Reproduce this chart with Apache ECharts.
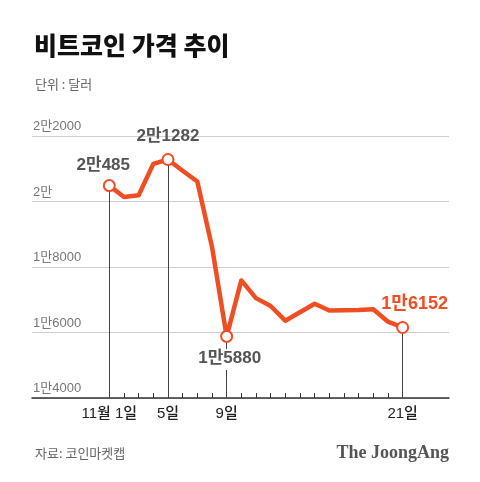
<!DOCTYPE html>
<html>
<head>
<meta charset="utf-8">
<script src="https://cdn.jsdelivr.net/npm/echarts@6/dist/echarts.min.js"></script>
<style>
  html, body { margin: 0; padding: 0; background: #fff; }
  #chart { width: 480px; height: 482px; }
</style>
</head>
<body>
<div id="chart"></div>
<script>
// 11월 1일 ~ 21일 일별 가격 (달러)
const days = [1, 2, 3, 4, 5, 6, 7, 8, 9, 10, 11, 12, 13, 14, 15, 16, 17, 18, 19, 20, 21]
const prices = [20485, 20140, 20190, 21150, 21282, 20940, 20610, 18620, 15880, 17590, 17050, 16810, 16360, 16620, 16880, 16670, 16680, 16690, 16710, 16330, 16152]
const markedDays = [1, 5, 9, 21]
const markedLabels = ['2만485', '2만1282', '1만5880', '1만6152']
const xLabels = { 1: '11월 1일', 5: '5일', 9: '9일', 21: '21일' }
const yTicks = [14000, 16000, 18000, 20000, 22000]
const yTickLabels = ['1만4000', '1만6000', '1만8000', '2만', '2만2000']

const orange = '#F04E22'
const font = 'Liberation Sans, Arial, "Noto Sans CJK KR", sans-serif'

const chart = echarts.init(document.getElementById('chart'), null, { renderer: 'canvas' })

const lineData = days.map((d, i) => [d, prices[i]])
const pointData = markedDays.map((d, i) => {
  const v = prices[days.indexOf(d)]
  const item = { value: [d, v], label: { formatter: markedLabels[i] } }
  if (i === 0) item.label = { ...item.label, position: 'top', offset: [-6, 0], distance: 5 }
  if (i === 1) item.label = { ...item.label, position: 'top', distance: 8 }
  if (i === 2) item.label = { ...item.label, position: 'bottom', offset: [3, 0], distance: 6, backgroundColor: '#fff', padding: [1, 1, 3, 1] }
  if (i === 3) item.label = { ...item.label, position: 'top', offset: [12, 2], distance: 10, color: orange, fontSize: 18 }
  return item
})
const dropLines = markedDays.map(d => [
  { coord: [d, prices[days.indexOf(d)]] },
  { coord: [d, yTicks[0]] }
])

const option = {
  animation: false,
  backgroundColor: '#fff',
  title: [
    {
      text: '비트코인 가격 추이',
      left: 29, top: 28,
      textStyle: { fontFamily: 'Noto Sans CJK KR', fontWeight: 900, fontSize: 25, color: '#111' }
    },
    {
      text: '단위 : 달러',
      left: 30, top: 73,
      textStyle: { fontFamily: 'Noto Sans CJK KR', fontWeight: 400, fontSize: 13, color: '#666' }
    },
    {
      text: '자료: 코인마켓캡',
      left: 30, top: 442,
      textStyle: { fontFamily: 'Noto Sans CJK KR', fontWeight: 400, fontSize: 13, color: '#666' }
    },
    {
      text: 'The JoongAng',
      right: 26, top: 439,
      textStyle: { fontFamily: 'Liberation Serif', fontWeight: 'bold', fontSize: 18, color: '#555' }
    }
  ],
  grid: { left: 32, right: 31, top: 136, bottom: 84, containLabel: false },
  xAxis: {
    type: 'value',
    min: -4.27,
    max: 24.16,
    splitLine: { show: false },
    axisLine: { show: true, lineStyle: { color: '#333', width: 1.5 } },
    axisTick: {
      show: true, inside: true, length: 5,
      customValues: days,
      lineStyle: { color: '#333', width: 1 }
    },
    axisLabel: {
      customValues: markedDays,
      formatter: v => xLabels[v] || '',
      margin: 8,
      fontFamily: font,
      fontSize: 15,
      fontWeight: 500,
      color: '#222'
    }
  },
  yAxis: {
    type: 'value',
    min: yTicks[0],
    max: yTicks[yTicks.length - 1],
    interval: 2000,
    axisLine: { show: false },
    axisTick: { show: false },
    splitLine: { show: true, lineStyle: { color: '#cfcfcf', width: 1 } },
    axisLabel: {
      inside: true,
      align: 'left',
      verticalAlign: 'bottom',
      margin: 1,
      padding: [0, 0, 3, 0],
      fontFamily: font,
      fontSize: 13,
      color: '#777',
      formatter: v => yTickLabels[yTicks.indexOf(v)]
    }
  },
  series: [
    {
      type: 'line',
      data: lineData,
      showSymbol: false,
      lineStyle: { color: orange, width: 4.5, join: 'round' },
      z: 2,
      markLine: {
        silent: true,
        symbol: ['none', 'none'],
        label: { show: false },
        lineStyle: { color: '#444', width: 1, type: 'solid' },
        data: dropLines,
        z: 1
      }
    },
    {
      type: 'scatter',
      data: pointData,
      symbol: 'circle',
      symbolSize: 11,
      itemStyle: { color: '#fff', borderColor: orange, borderWidth: 2, opacity: 1 },
      label: {
        show: true,
        fontFamily: font,
        fontWeight: 'bold',
        fontSize: 17,
        color: '#555'
      },
      z: 3
    }
  ]
}

chart.setOption(option)
</script>
</body>
</html>
